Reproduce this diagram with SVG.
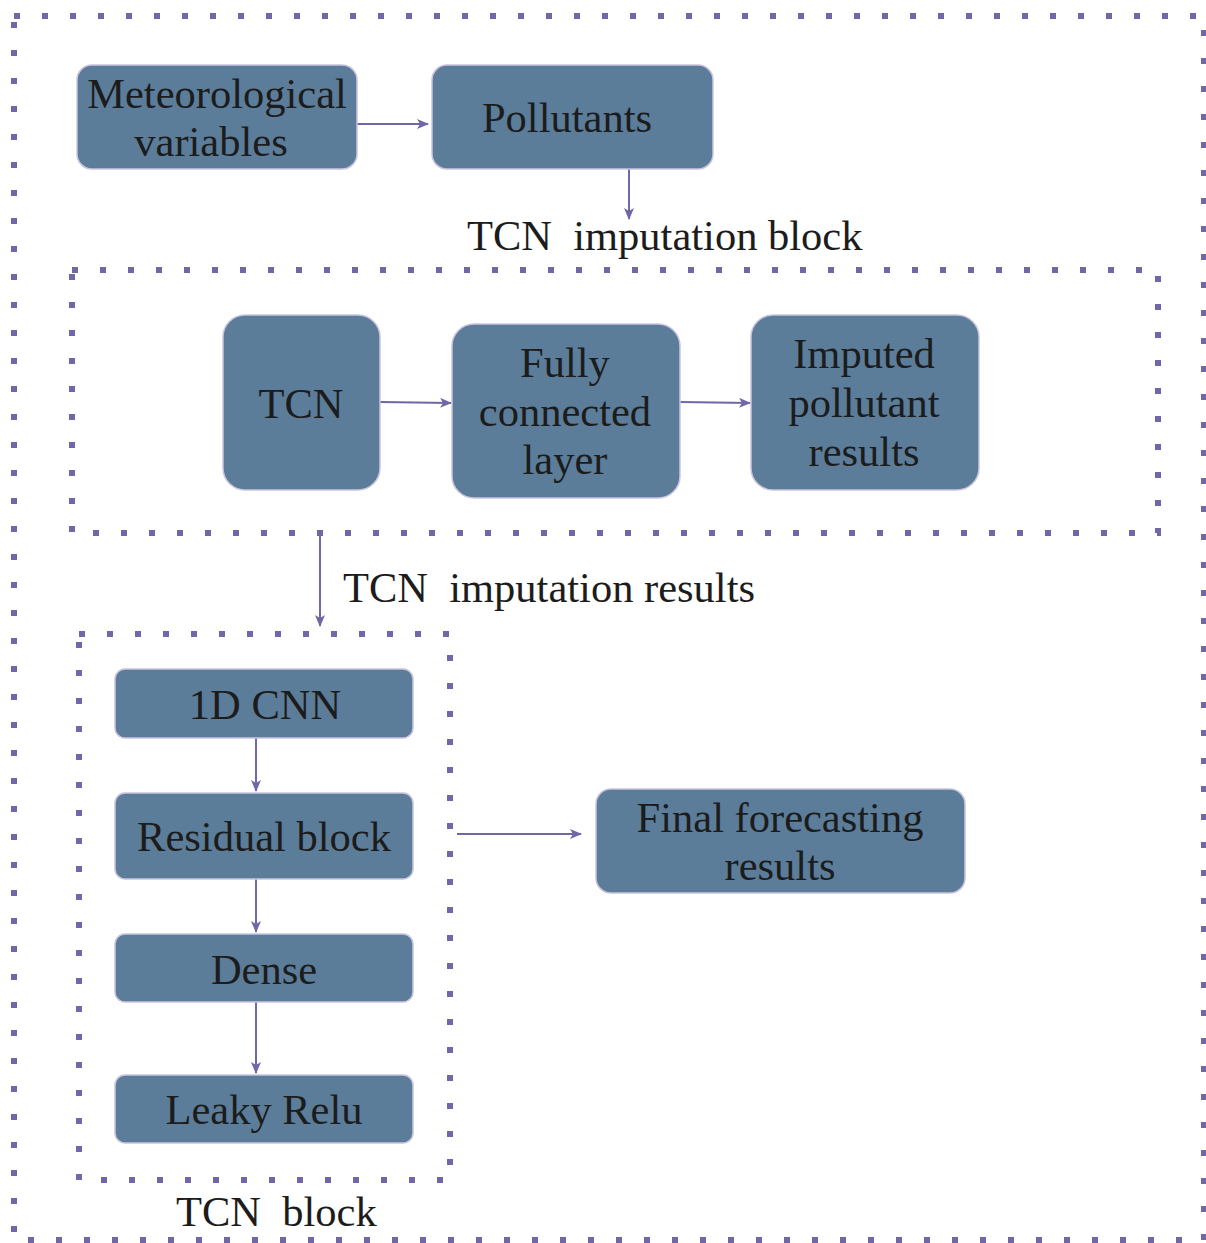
<svg xmlns="http://www.w3.org/2000/svg" width="1206" height="1243" viewBox="0 0 1206 1243">
<style>
.node rect{fill:#5b7d99;stroke:#c9c3e0;stroke-width:1.5}
.node text,.lbl{font-family:"Liberation Serif","Times New Roman",Times,"DejaVu Serif",serif;font-size:42.5px;fill:#1c1c1c;text-anchor:middle}
.lbl{text-anchor:start}
.dot{fill:none;stroke:#7066a8;stroke-width:6;stroke-dasharray:6 22}
.conn line{stroke:#7066a8;stroke-width:2;marker-end:url(#ah)}
</style>
<defs>
<marker id="ah" viewBox="0 0 12 10" refX="11" refY="5" markerWidth="12" markerHeight="10" markerUnits="userSpaceOnUse" orient="auto">
<path d="M0,0 L12,5 L0,10 L3,5 Z" fill="#7066a8"/>
</marker>
</defs>
<rect width="1206" height="1243" fill="#fff"/>
<g id="frames">
<rect class="dot" x="14" y="16" width="1190" height="1224"/>
<rect class="dot" x="72" y="270" width="1086" height="263"/>
<rect class="dot" x="79" y="634" width="371" height="546"/>
</g>
<g id="labels">
<text class="lbl" x="467" y="250" xml:space="preserve">TCN  imputation block</text>
<text class="lbl" x="343" y="602" xml:space="preserve">TCN  imputation results</text>
<text class="lbl" x="176" y="1226" xml:space="preserve">TCN  block</text>
</g>
<g class="conn" id="connectors">
<line x1="357" y1="124" x2="428" y2="124"/>
<line x1="629" y1="169" x2="629" y2="219"/>
<line x1="380" y1="402" x2="451" y2="403"/>
<line x1="680" y1="402" x2="750" y2="403"/>
<line x1="320" y1="533" x2="320" y2="626"/>
<line x1="256" y1="738" x2="256" y2="791"/>
<line x1="256" y1="879" x2="256" y2="932"/>
<line x1="256" y1="1002" x2="256" y2="1073"/>
<line x1="457" y1="834" x2="581" y2="834"/>
</g>
<g class="node" id="meteo"><rect x="77" y="65" width="280" height="104" rx="15"/><text x="217" y="108">Meteorological</text><text x="211" y="156">variables</text></g>
<g class="node" id="pollutants"><rect x="432" y="65" width="281" height="104" rx="15"/><text x="567" y="132">Pollutants</text></g>
<g class="node" id="tcn"><rect x="223" y="315" width="157" height="175" rx="22"/><text x="301" y="418">TCN</text></g>
<g class="node" id="fc"><rect x="452" y="324" width="228" height="174" rx="22"/><text x="565" y="377">Fully</text><text x="565" y="426">connected</text><text x="565" y="474">layer</text></g>
<g class="node" id="imputed"><rect x="751" y="315" width="228" height="175" rx="22"/><text x="864" y="368">Imputed</text><text x="864" y="417">pollutant</text><text x="864" y="466">results</text></g>
<g class="node" id="cnn"><rect x="115" y="669" width="298" height="69" rx="10"/><text x="265" y="719">1D CNN</text></g>
<g class="node" id="residual"><rect x="115" y="793" width="298" height="86" rx="10"/><text x="264" y="851">Residual block</text></g>
<g class="node" id="dense"><rect x="115" y="934" width="298" height="68" rx="10"/><text x="264" y="984">Dense</text></g>
<g class="node" id="leaky"><rect x="115" y="1075" width="298" height="68" rx="10"/><text x="264" y="1124">Leaky Relu</text></g>
<g class="node" id="final"><rect x="596" y="789" width="369" height="104" rx="15"/><text x="780" y="832">Final forecasting</text><text x="780" y="880">results</text></g>
</svg>
